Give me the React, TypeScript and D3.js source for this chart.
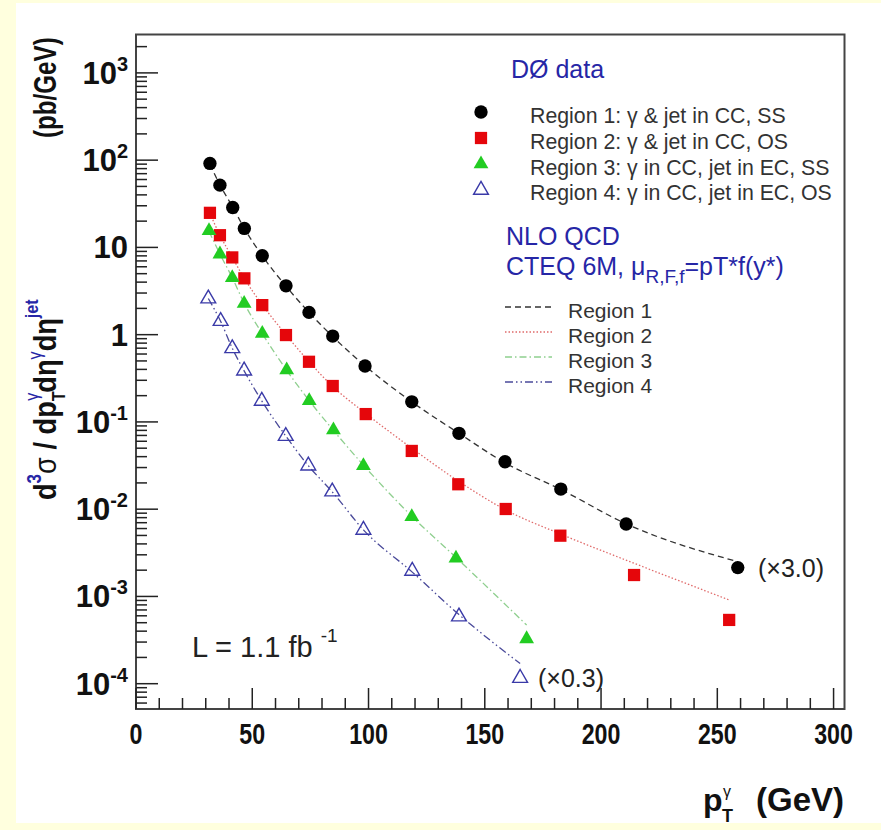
import * as d3 from "d3";

// pT bin centres (GeV) and cross sections (pb/GeV)
const ptR1 = [31.8, 36.1, 41.6, 46.6, 54.3, 64.5, 74.4, 84.6, 98.5, 118.6, 138.9, 158.7, 182.7, 210.8, 258.8];
const dataR1 = [91.7, 51.7, 28.7, 16.5, 8.02, 3.63, 1.8, 0.964, 0.437, 0.17, 0.074, 0.035, 0.017, 0.00677, 0.00214];
const theoryR1 = [90, 52, 29, 16.5, 8.0, 3.6, 1.8, 0.95, 0.44, 0.17, 0.074, 0.034, 0.0168, 0.0068, 0.0025];

const ptR2 = [31.8, 36.1, 41.4, 46.6, 54.3, 64.5, 74.4, 84.6, 98.8, 118.6, 138.6, 159.0, 182.5, 214.2, 255.1];
const dataR2 = [24.9, 13.8, 7.68, 4.42, 2.18, 0.99, 0.489, 0.258, 0.123, 0.0465, 0.0193, 0.01005, 0.00497, 0.00176, 0.000538];
const theoryR2 = [24.5, 13.8, 7.7, 4.4, 2.2, 1.0, 0.49, 0.255, 0.125, 0.05, 0.021, 0.0098, 0.0052, 0.0024, 0.00091];

const ptR3 = [31.4, 36.1, 41.4, 46.5, 54.3, 64.8, 74.5, 84.9, 97.8, 118.6, 137.6, 168.0];
const dataR3 = [15.5, 8.38, 4.49, 2.28, 1.03, 0.393, 0.175, 0.0807, 0.0315, 0.0082, 0.00274, 0.000326];
const theoryR3 = [15.3, 8.4, 4.5, 2.3, 1.03, 0.39, 0.175, 0.08, 0.032, 0.0083, 0.0028, 0.00047];

const ptR4 = [31.1, 36.4, 41.4, 46.5, 54.1, 64.4, 74.1, 84.4, 97.8, 118.8, 138.9, 165.2];
const dataR4 = [2.59, 1.43, 0.697, 0.386, 0.174, 0.0688, 0.0315, 0.0159, 0.00578, 0.00196, 0.000587, 0.000116];
const theoryR4 = [2.6, 1.42, 0.7, 0.385, 0.174, 0.069, 0.0315, 0.0158, 0.0058, 0.0019, 0.00062, 0.00017];

const xTicks = [0, 50, 100, 150, 200, 250, 300];
const yDecades = [-4, -3, -2, -1, 0, 1, 2, 3];

const dataLabels = [
  "Region 1: \u03b3 & jet in CC, SS",
  "Region 2: \u03b3 & jet in CC, OS",
  "Region 3: \u03b3 in CC, jet in EC, SS",
  "Region 4: \u03b3 in CC, jet in EC, OS",
];
const theoryLabels = ["Region 1", "Region 2", "Region 3", "Region 4"];

const W = 881;
const H = 830;
const frame = { left: 136, right: 844.5, top: 34.5, bottom: 709 };
const FONT = "'Liberation Sans', Arial, sans-serif";
const BLUE = "#2626a6";
const GRAY = "#333";

const x = d3.scaleLinear().domain([0, 304.7]).range([frame.left, frame.right]);
const y = d3.scaleLog().domain([Math.pow(10, -4.29), Math.pow(10, 3.44)]).range([frame.bottom, frame.top]);

const styles = [
  { color: "#000", line: "#333", dash: "6,4", shape: "circle" },
  { color: "#e5060b", line: "#e06a6a", dash: "1.5,2", shape: "square" },
  { color: "#22cc22", line: "#8fcf8f", dash: "7,3,1.5,3", shape: "triangle" },
  { color: "#3a3aa8", line: "#4a4a9a", dash: "8,3,1.5,3,1.5,3", shape: "open" },
];

const series = [
  { pt: ptR1, data: dataR1, theory: theoryR1 },
  { pt: ptR2, data: dataR2, theory: theoryR2 },
  { pt: ptR3, data: dataR3, theory: theoryR3 },
  { pt: ptR4, data: dataR4, theory: theoryR4 },
];

function markerPath(shape: string) {
  if (shape === "circle") return d3.symbol(d3.symbolCircle, 140)()!;
  if (shape === "square") return d3.symbol(d3.symbolSquare, 150)()!;
  return d3.symbol(d3.symbolTriangle, 95)()!;
}

function Marker({ shape, color, cx, cy }: { shape: string; color: string; cx: number; cy: number }) {
  const open = shape === "open";
  return (
    <path
      d={markerPath(shape)}
      transform={`translate(${cx},${cy})`}
      fill={open ? "none" : color}
      stroke={open ? color : "none"}
      strokeWidth={open ? 1.4 : 0}
    />
  );
}

export default function App() {
  const lineGen = d3
    .line<[number, number]>()
    .x(d => x(d[0]))
    .y(d => y(d[1]))
    .curve(d3.curveMonotoneX);

  // log minor ticks
  const minor: number[] = [];
  for (let e = -5; e <= 3; e++) {
    for (let m = 2; m <= 9; m++) {
      const v = m * Math.pow(10, e);
      if (v >= y.domain()[0] && v <= y.domain()[1]) minor.push(v);
    }
  }
  const xMinor = d3.range(0, 301, 10).filter(v => v % 50 !== 0);

  return (
    <div style={{ position: "absolute", left: 0, top: 0 }}>
      <svg width={W} height={H} style={{ display: "block", fontFamily: FONT }}>
        <rect x={0} y={0} width={W} height={H} fill="#ffffde" />
        <rect x={16} y={3} width={W - 16} height={820} fill="#fff" />

        {/* theory curves */}
        {series.map((s, i) => (
          <path
            key={"t" + i}
            d={lineGen(s.pt.map((p, j) => [p, s.theory[j]] as [number, number]))!}
            fill="none"
            stroke={styles[i].line}
            strokeWidth={1.3}
            strokeDasharray={styles[i].dash}
          />
        ))}

        {/* data points */}
        {series.map((s, i) =>
          s.pt.map((p, j) => (
            <Marker key={`m${i}-${j}`} shape={styles[i].shape} color={styles[i].color} cx={x(p)} cy={y(s.data[j])} />
          ))
        )}

        {/* frame */}
        <rect
          x={frame.left}
          y={frame.top}
          width={frame.right - frame.left}
          height={frame.bottom - frame.top}
          fill="none"
          stroke="#444"
          strokeWidth={2}
        />

        {/* x ticks */}
        {xTicks.map(t => (
          <line key={"xt" + t} x1={x(t)} x2={x(t)} y1={frame.bottom} y2={frame.bottom - 21} stroke="#222" strokeWidth={1.5} />
        ))}
        {xMinor.map(t => (
          <line key={"xm" + t} x1={x(t)} x2={x(t)} y1={frame.bottom} y2={frame.bottom - 11} stroke="#222" strokeWidth={1.5} />
        ))}
        {xTicks.map(t => (
          <g key={"xl" + t} transform={`translate(${x(t)},${frame.bottom + 35}) scale(0.8,1)`}>
            <text textAnchor="middle" fontSize={29} fontWeight="bold" fill="#111">
              {t}
            </text>
          </g>
        ))}

        {/* y ticks */}
        {yDecades.map(e => (
          <line
            key={"yt" + e}
            x1={frame.left}
            x2={frame.left + 22}
            y1={y(Math.pow(10, e))}
            y2={y(Math.pow(10, e))}
            stroke="#222"
            strokeWidth={1.5}
          />
        ))}
        {minor.map(v => (
          <line key={"ym" + v} x1={frame.left} x2={frame.left + 11} y1={y(v)} y2={y(v)} stroke="#222" strokeWidth={1.5} />
        ))}
        {yDecades.map(e => (
          <text
            key={"yl" + e}
            x={128}
            y={y(Math.pow(10, e)) + 11}
            textAnchor="end"
            fontSize={31}
            fontWeight="bold"
            fill="#111"
          >
            {e === 0 ? "1" : "10"}
            {e !== 0 && e !== 1 && (
              <tspan fontSize={20} dy={-13}>
                {String(e)}
              </tspan>
            )}
          </text>
        ))}

        {/* x title */}
        <text x={844} y={811} textAnchor="end" fontSize={33} fontWeight="bold" fill="#111">
          (GeV)
        </text>
        <text x={703} y={811} fontSize={32} fontWeight="bold" fill="#111">
          p
        </text>
        <text x={722} y={822} fontSize={18} fontWeight="bold" fill="#111">
          T
        </text>
        <text x={723} y={797} fontSize={16} fill="#111">
          {"\u03b3"}
        </text>

        {/* y title */}
        <g transform="translate(56,500) rotate(-90) scale(0.85,1)">
          <text x={0} y={0} fontSize={32} fontWeight="bold" fill="#111">
            d
            <tspan fontSize={20} dy={-15} fill={BLUE}>3</tspan>
            <tspan dy={15} fontWeight="normal">{"\u03c3"}</tspan>
            <tspan>{" / dp"}</tspan>
            <tspan fontSize={19} dy={9}>T</tspan>
            <tspan fontSize={19} dx={-11} dy={-27} fill={BLUE} fontWeight="normal">{"\u03b3"}</tspan>
            <tspan dy={18}>{"d\u03b7"}</tspan>
            <tspan fontSize={19} dy={-15} fill={BLUE} fontWeight="normal">{"\u03b3"}</tspan>
            <tspan dy={15}>{"d\u03b7"}</tspan>
            <tspan fontSize={19} dy={-18} fill={BLUE}>jet</tspan>
          </text>
        </g>
        <g transform="translate(56,138) rotate(-90) scale(0.78,1)">
          <text x={0} y={0} fontSize={31} fontWeight="bold" fill="#111">
            (pb/GeV)
          </text>
        </g>

        {/* data legend */}
        <text x={511} y={78} fontSize={25} fill={BLUE}>
          {"D\u00d8 data"}
        </text>
        {dataLabels.map((lab, i) => (
          <g key={"dl" + i}>
            <Marker shape={styles[i].shape} color={styles[i].color} cx={481} cy={112 + i * 26} />
            <text x={530} y={123 + i * 25.8} fontSize={21.3} fill={GRAY}>
              {lab}
            </text>
          </g>
        ))}

        {/* theory legend */}
        <text x={506} y={245} fontSize={25} fill={BLUE}>
          NLO QCD
        </text>
        <text x={506} y={275} fontSize={25} fill={BLUE}>
          {"CTEQ 6M,  \u03bc"}
          <tspan fontSize={19} dy={8}>R,F,f</tspan>
          <tspan dy={-8}>{"=pT*f(y*)"}</tspan>
        </text>
        {theoryLabels.map((lab, i) => (
          <g key={"tl" + i}>
            <line
              x1={505}
              x2={552}
              y1={307 + i * 25}
              y2={307 + i * 25}
              stroke={styles[i].line}
              strokeWidth={1.3}
              strokeDasharray={styles[i].dash}
            />
            <text x={568} y={318 + i * 25} fontSize={21} fill={GRAY}>
              {lab}
            </text>
          </g>
        ))}

        {/* annotations */}
        <text x={758} y={577} fontSize={25} fill="#222">
          {"(\u00d73.0)"}
        </text>
        <text x={538} y={687} fontSize={25} fill="#222">
          {"(\u00d70.3)"}
        </text>
        <text x={192} y={657} fontSize={29} fill="#222">
          {"L = 1.1 fb "}
          <tspan fontSize={19} dy={-15}>-1</tspan>
        </text>
      </svg>
    </div>
  );
}
